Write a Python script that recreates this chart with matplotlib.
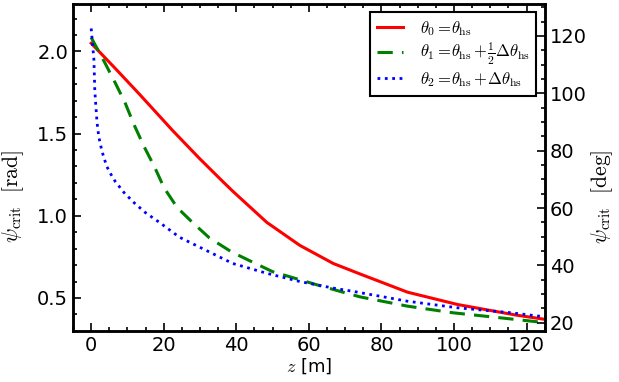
import numpy as np
import matplotlib
matplotlib.use("Agg")
import matplotlib.pyplot as plt
from matplotlib.ticker import MultipleLocator

plt.rcParams['mathtext.fontset'] = 'cm'
plt.rcParams['font.size'] = 14

# theta_0 = theta_hs
z_red = [0, 6.5, 13.3, 22.4, 29.8, 36.2, 39.0, 48.4, 57.5, 66.7, 74.2, 87.2, 101, 117, 125]
psi_red = [2.05, 1.90, 1.74, 1.52, 1.35, 1.21, 1.15, 0.96, 0.82, 0.71, 0.645, 0.535, 0.46, 0.396, 0.37]

# theta_1 = theta_hs + 1/2 dtheta_hs
z_green = [0, 3.8, 6.6, 9.3, 11.8, 14.6, 17.4, 20.1, 23.7, 27.9, 32.6, 38.7, 44.3,
           50.0, 56.1, 62.2, 68.6, 74.2, 87.2, 99.6, 112.4, 125]
psi_green = [2.085, 1.93, 1.81, 1.69, 1.555, 1.42, 1.30, 1.17, 1.05, 0.96, 0.865, 0.78, 0.72,
             0.66, 0.62, 0.58, 0.54, 0.506, 0.45, 0.41, 0.38, 0.35]

# theta_2 = theta_hs + dtheta_hs
z_blue = [0, 0.75, 1.0, 1.6, 2.1, 3.0, 4.3, 5.5, 6.6, 9.1, 11.8, 14.9, 18.8, 24.3, 29.8,
          39.0, 48.4, 57.5, 66.7, 72.2, 87.2, 101, 115.7, 125]
psi_blue = [2.14, 1.95, 1.76, 1.57, 1.48, 1.39, 1.30, 1.25, 1.21, 1.14, 1.08, 1.02, 0.96, 0.87, 0.81,
            0.71, 0.65, 0.60, 0.56, 0.54, 0.48, 0.44, 0.41, 0.385]

labels = [r'$\theta_0 = \!\theta_{\rm hs}$',
          r'$\theta_1 = \!\theta_{\rm hs} + \!\frac{1}{2}\Delta\theta_{\rm hs}$',
          r'$\theta_2 = \!\theta_{\rm hs} + \!\Delta\theta_{\rm hs}$']

fig = plt.figure(figsize=(6.19, 3.82), dpi=100)
ax = fig.add_axes([0.118, 0.134, 0.762, 0.856])

ax.plot(z_red, psi_red, '-', color='red', lw=2.2, label=labels[0])
ax.plot(z_green, psi_green, '--', color='green', lw=2.2, dashes=(5, 3), label=labels[1])
ax.plot(z_blue, psi_blue, ':', color='blue', lw=2.0, label=labels[2])

ylim = (0.3, 2.29)
ax.set_xlim(-5, 125)
ax.set_ylim(ylim)
ax.set_xlabel(r'$z$ [m]', labelpad=1, fontsize=13)
ax.set_ylabel(r'$\psi_{\rm crit}\ \ [\rm rad]$', fontsize=15.5)
ax.yaxis.set_label_coords(-0.10, 0.41)
ax.xaxis.set_major_locator(MultipleLocator(20))
ax.xaxis.set_minor_locator(MultipleLocator(5))
ax.yaxis.set_major_locator(MultipleLocator(0.5))
ax.yaxis.set_minor_locator(MultipleLocator(0.1))
ax.tick_params(which='both', direction='in', top=True, right=False, width=1.2, labelsize=14)
ax.tick_params(which='major', length=6)
ax.tick_params(which='minor', length=3)

ax2 = ax.twinx()
ax2.set_ylim(np.degrees(ylim[0]), np.degrees(ylim[1]))
ax2.set_ylabel(r'$\psi_{\rm crit}\ \ [\rm deg]$', fontsize=15.5)
ax2.yaxis.set_label_coords(1.094, 0.41)
ax2.yaxis.set_major_locator(MultipleLocator(20))
ax2.yaxis.set_minor_locator(MultipleLocator(5))
ax2.tick_params(which='both', direction='in', width=1.2, labelsize=14)
ax2.tick_params(which='major', length=6)
ax2.tick_params(which='minor', length=3)

for a in (ax, ax2):
    for s in a.spines.values():
        s.set_linewidth(1.8)

leg = ax.legend(loc='upper right', fancybox=False, edgecolor='black', framealpha=1,
                handlelength=1.6, handletextpad=1.0, fontsize=12, borderaxespad=0.5,
                labelspacing=0.2, borderpad=0.4)
leg.get_frame().set_linewidth(1.5)

fig.savefig('out.png', dpi=100)
